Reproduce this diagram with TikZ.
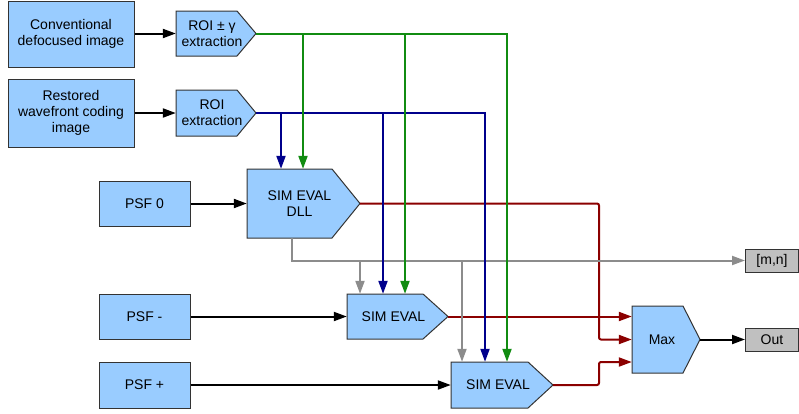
\documentclass[tikz,border=0pt]{standalone}
\usepackage{fontspec}
\setmainfont{Liberation Sans}
\usetikzlibrary{arrows.meta}
\definecolor{boxblue}{HTML}{99CCFF}
\definecolor{boxgray}{HTML}{C0C0C0}
\definecolor{edgec}{HTML}{333333}
\definecolor{gline}{RGB}{17,140,17}
\definecolor{bline}{RGB}{0,0,140}
\definecolor{rline}{RGB}{139,0,0}
\definecolor{yline}{RGB}{140,140,140}
\tikzset{
  shp/.style={draw=edgec, fill=boxblue, line width=1pt},
  blk/.style={shp, align=center, inner sep=0pt, font=\fontsize{14}{16}\selectfont},
  gblk/.style={blk, fill=boxgray},
  txt/.style={align=center, inner sep=0pt, font=\fontsize{14}{16}\selectfont},
  tip/.style={-{Triangle[length=13pt,width=9pt]}},
  conn/.style={tip, line width=2pt, black},
  redc/.style={tip, line width=2pt, rline, rounded corners=2pt},
  grayc/.style={tip, line width=2pt, yline},
  bluec/.style={tip, line width=2pt, bline},
  greenc/.style={tip, line width=2pt, gline},
}
% name, cx, cy, width, height, tip length, text
\newcommand\pentnode[7]{%
  \path[shp] (#2-#4/2,#3-#5/2) -- (#2+#4/2-#6,#3-#5/2) -- (#2+#4/2,#3)
     -- (#2+#4/2-#6,#3+#5/2) -- (#2-#4/2,#3+#5/2) -- cycle;
  \node[inner sep=0pt, minimum width=#4, minimum height=#5] (#1) at (#2,#3) {};
  \node[txt, xshift=-4pt] at (#1.center) {#7};}
\begin{document}
\begin{tikzpicture}[x=1pt,y=-1pt]
\useasboundingbox (0,0) rectangle (799,413);
% rectangular boxes
\node[blk, minimum width=126, minimum height=66] (conv) at (71,34) {Conventional\\defocused image};
\node[blk, minimum width=126, minimum height=68] (rest) at (71,113) {Restored\\wavefront coding\\image};
\node[blk, minimum width=91, minimum height=45] (psf0) at (144.5,203.5) {PSF 0};
\node[blk, minimum width=91, minimum height=45] (psfm) at (144.5,316.5) {PSF -};
\node[blk, minimum width=91, minimum height=46] (psfp) at (144.5,385) {PSF +};
\node[gblk, minimum width=53, minimum height=23] (mn) at (772,260.5) {[m,n]};
\node[gblk, minimum width=53, minimum height=23] (out) at (772,339.5) {Out};
% pentagon boxes
\pentnode{roi1}{216}{33.5}{80}{45}{19}{ROI ± γ\\extraction}
\pentnode{roi2}{216}{113}{80}{46}{19}{ROI\\extraction}
\pentnode{dll}{303.5}{203.5}{113}{69}{28}{SIM EVAL\\DLL}
\pentnode{sim1}{397.5}{316.5}{101}{45}{25}{SIM EVAL}
\pentnode{sim2}{502}{385}{102}{46}{25}{SIM EVAL}
\pentnode{max}{666}{339.5}{68}{67}{17}{Max}
% junction columns / rows
\coordinate (rx) at (599,0);
\coordinate (ry) at (0,362);
\coordinate (gx0) at (292,0);
\coordinate (gx1) at (360,0);
\coordinate (gx2) at (462,0);
\coordinate (gy) at (0,260);
\coordinate (bx1) at (281,0);
\coordinate (bx2) at (383,0);
\coordinate (bx3) at (485,0);
\coordinate (ex1) at (303,0);
\coordinate (ex2) at (405,0);
\coordinate (ex3) at (507,0);
% black connectors
\draw[conn] (conv.east |- roi1.west) -- (roi1.west);
\draw[conn] (rest.east) -- (roi2.west);
\draw[conn] (psf0.east) -- (dll.west);
\draw[conn] (psfm.east) -- (sim1.west);
\draw[conn] (psfp.east) -- (sim2.west);
\draw[conn] (max.east) -- (out.west);
% red
\draw[redc] (dll.east) -| (rx |- max.west) -- (max.west);
\draw[redc] (sim1.east) -- (max.west |- sim1.east);
\draw[redc] (sim2.east) -| (rx |- ry) -- (max.west |- ry);
% gray
\draw[grayc] (dll.south -| gx0) |- (mn.west);
\draw[grayc] (gx1 |- gy) -- (sim1.north -| gx1);
\draw[grayc] (gx2 |- gy) -- (sim2.north -| gx2);
% blue
\draw[bluec] (roi2.east) -| (sim2.north -| bx3);
\draw[bluec] (bx1 |- roi2.east) -- (dll.north -| bx1);
\draw[bluec] (bx2 |- roi2.east) -- (sim1.north -| bx2);
% green
\draw[greenc] (roi1.east) -| (sim2.north -| ex3);
\draw[greenc] (ex1 |- roi1.east) -- (dll.north -| ex1);
\draw[greenc] (ex2 |- roi1.east) -- (sim1.north -| ex2);
\end{tikzpicture}
\end{document}
